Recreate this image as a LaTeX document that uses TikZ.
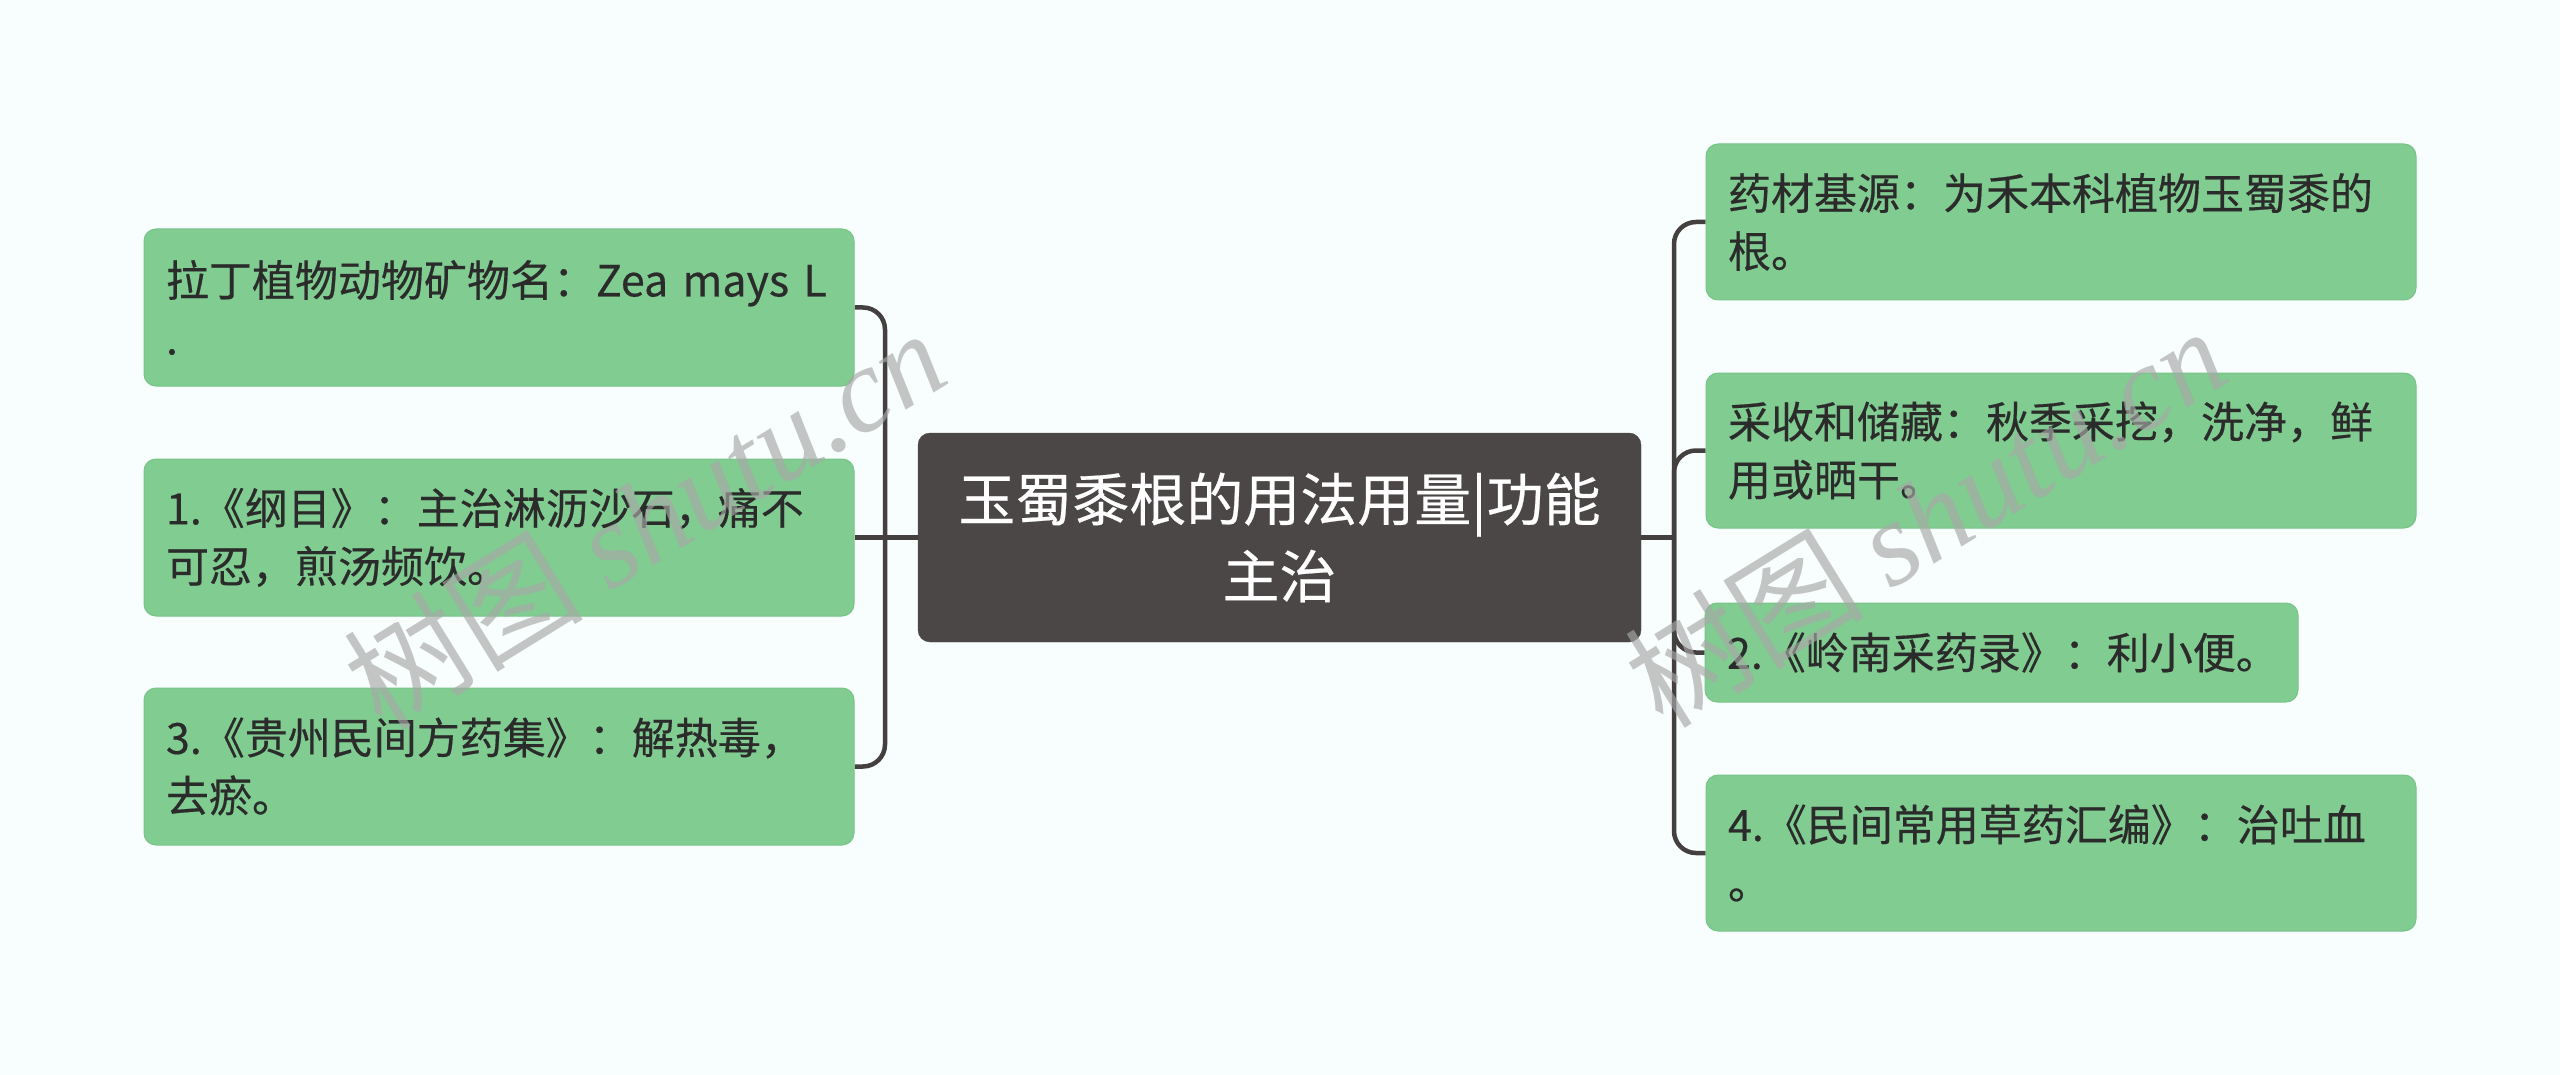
\documentclass[tikz,border=0pt]{standalone}
\usepackage{fontspec}
\usetikzlibrary{backgrounds}
\setmainfont{Noto Sans CJK SC}[FakeBold=0.4]
\newfontfamily\wmsans{Noto Sans CJK SC}
\newfontfamily\wmserif{Liberation Serif}
\definecolor{bgcol}{HTML}{F8FDFD}
\definecolor{leafgreen}{HTML}{80CC91}
\definecolor{leafedge}{HTML}{78C489}
\definecolor{rootfill}{HTML}{4C4747}
\definecolor{linecol}{HTML}{454040}
\definecolor{textdark}{HTML}{2B2B2B}
\definecolor{wmgray}{HTML}{A8A8A8}
\begin{document}
\begin{tikzpicture}[x=1pt,y=-1pt,
  leaf/.style={rounded corners=12pt, fill=leafgreen, draw=leafedge, line width=1pt,
    text=textdark, inner xsep=22pt, inner ysep=0pt, align=left, text width=666pt,
    minimum height=157pt, font=\fontsize{43}{58}\selectfont},
  rootbox/.style={rounded corners=12pt, fill=rootfill, draw=rootfill, text=white,
    align=center, minimum width=723pt, minimum height=209pt, inner sep=0pt,
    font=\fontsize{57}{77}\selectfont},
  conn/.style={draw=linecol, line width=4.5pt, rounded corners=22pt},
  wm/.style={text=wmgray, opacity=0.65, rotate=31.7, inner sep=0pt,
    font=\fontsize{120}{120}\selectfont}]
\useasboundingbox (0,0) rectangle (2560,1075);

\coordinate (lbus) at (885,537.5);
\coordinate (rbus) at (1674,537.5);

\node[rootbox] (C) at (1279.5,537.5) {玉蜀黍根的用法用量|功能\\主治};
\node[leaf] (L1) at (499,307.5) {拉丁植物动物矿物名：Zea mays L\\.};
\node[leaf] (L2) at (499,537.5) {1.《纲目》：主治淋沥沙石，痛不\\可忍，煎汤频饮。};
\node[leaf] (L3) at (499,766.5) {3.《贵州民间方药集》：解热毒，\\去瘀。};
\node[leaf, minimum height=156pt] (R1) at (2061,222) {药材基源：为禾本科植物玉蜀黍的\\根。};
\node[leaf, minimum height=155pt] (R2) at (2061,450.5) {采收和储藏：秋季采挖，洗净，鲜\\用或晒干。};
\node[leaf, minimum height=99pt, text width=549pt] (R3) at (2001.5,652.5) {2.《岭南采药录》：利小便。};
\node[leaf, minimum height=156pt] (R4) at (2061,853) {4.《民间常用草药汇编》：治吐血\\。};

\begin{scope}[on background layer]
\fill[bgcol] (0,0) rectangle (2560,1075);
\draw[conn] (L1.east) -| (lbus) |- (L3.east);
\draw[conn] (C.west) -- (L2.east);
\draw[conn] (R1.west) -| (rbus) |- (R4.west);
\draw[conn] (R2.west) -| (rbus);
\draw[conn] (R3.west) -| (rbus);
\draw[conn] (C.east) -- (rbus);
\end{scope}

% watermarks
\node[wm] (W1) at (644,518) {{\wmsans 树图} {\wmserif\itshape shutu.cn}};
\node[wm] (W2) at (1925,516) {{\wmsans 树图} {\wmserif\itshape shutu.cn}};
\end{tikzpicture}
\end{document}
